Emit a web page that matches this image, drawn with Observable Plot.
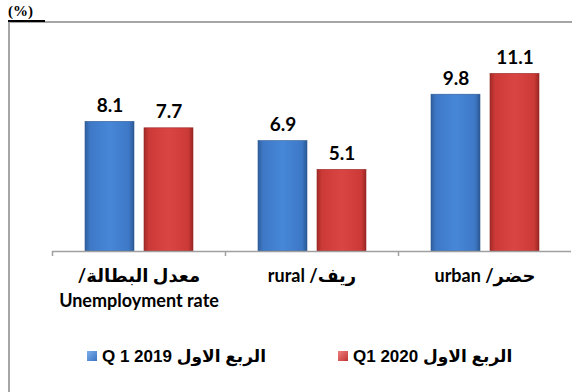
<!DOCTYPE html>
<html>
<head>
<meta charset="utf-8">
<script src="https://cdn.jsdelivr.net/npm/d3@7"></script>
<script src="https://cdn.jsdelivr.net/npm/@observablehq/plot@0.6"></script>
<style>
  body { margin: 0; background: #fff; }
  #wrap { position: relative; width: 572px; height: 392px; overflow: hidden; background: #fff; }
  #frame { position: absolute; left: 8px; top: 21px; width: 600px; height: 400px;
           border-top: 2px solid #a6a6a6; border-left: 2px solid #a6a6a6; }
  #unit { position: absolute; left: 8px; top: 3px; width: 37px; height: 17px;
          font: bold 15px "Liberation Serif", serif; color: #000;
          border-bottom: 2px solid #000; line-height: 17px; }
  #chart { position: absolute; left: 0; top: 0; }
  #legend { position: absolute; left: 0; top: 345px; width: 572px; height: 22px;
            font: bold 17px "Liberation Sans", "DejaVu Sans", sans-serif; color: #000; }
  .item { position: absolute; top: 0; white-space: nowrap; display: flex; align-items: center; height: 22px; }
  .sw { width: 10px; height: 10px; margin-right: 5px; box-sizing: border-box; }
</style>
</head>
<body>
<div id="wrap">
  <div id="frame"></div>
  <div id="unit">(%)</div>
  <div id="chart"></div>
  <div id="legend"></div>
</div>
<script>
// ---- data ----
const categories = ["/معدل البطالة\nUnemployment rate", "rural /ريف", "urban /حضر"];
const series = ["Q 1 2019", "Q1 2020"];
const seriesLabels = ["Q 1 2019 الربع الاول", "Q1 2020 الربع الاول"];
const values2019 = [8.1, 6.9, 9.8];
const values2020 = [7.7, 5.1, 11.1];

const data2019 = categories.map((c, i) => ({cat: c, s: series[0], v: values2019[i]}));
const data2020 = categories.map((c, i) => ({cat: c, s: series[1], v: values2020[i]}));
const all = data2019.concat(data2020);

const font = "Lato, 'DejaVu Sans', sans-serif";

const chart = Plot.plot({
  width: 572,
  height: 330,
  marginLeft: 52,
  marginRight: 1,
  marginTop: 27,
  marginBottom: 79,
  style: {fontFamily: font, background: "transparent", overflow: "visible", color: "#000"},
  fx: {domain: categories, padding: 0, label: null, axis: null},
  x: {domain: series, paddingInner: 0.17, paddingOuter: 0.55, axis: null},
  y: {domain: [0, 14], axis: null},
  marks: [
    Plot.barY(data2019, {fx: "cat", x: "s", y: "v", fill: "url(#gBlue)", stroke: "#2c5a94", strokeWidth: 0.6}),
    Plot.barY(data2020, {fx: "cat", x: "s", y: "v", fill: "url(#gRed)", stroke: "#962624", strokeWidth: 0.6}),
    Plot.ruleY([0], {stroke: "#a0a0a0", strokeWidth: 1.5}),
    Plot.axisFx({anchor: "bottom", text: null, tickSize: 5, dx: -86.5, stroke: "#a0a0a0", strokeWidth: 1.5, label: null}),
    Plot.axisFx({anchor: "bottom", tickSize: 0, tickPadding: 13, fontSize: 18, fontWeight: "bold",
                 lineHeight: 1.38, label: null, fontFamily: font}),
    Plot.text(all, {fx: "cat", x: "s", y: "v", text: d => d.v.toFixed(1), dy: -10, lineAnchor: "bottom",
                    fontSize: 19, fontWeight: "bold", fill: "#000"})
  ]
});

// gradients for the bevelled bars
const defs = d3.select(chart).insert("defs", ":first-child");
function grad(id, stops) {
  const g = defs.append("linearGradient").attr("id", id).attr("x1", 0).attr("x2", 1).attr("y1", 0).attr("y2", 0);
  stops.forEach(([o, c]) => g.append("stop").attr("offset", o).attr("stop-color", c));
}
grad("gBlue", [[0, "#2f5e9e"], [0.1, "#3d78c6"], [0.5, "#4787d8"], [0.9, "#3d78c6"], [1, "#2b5792"]]);
grad("gRed", [[0, "#a22a28"], [0.1, "#cc3a37"], [0.5, "#d94542"], [0.9, "#cc3a37"], [1, "#9b2624"]]);

document.getElementById("chart").appendChild(chart);

// legend
const legend = d3.select("#legend");
const swatch = ["linear-gradient(135deg,#7fb0ee,#3a73c0)", "linear-gradient(135deg,#f08080,#c03431)"];
const lefts = [87, 338];
seriesLabels.forEach((lab, i) => {
  const it = legend.append("div").attr("class", "item").style("left", lefts[i] + "px");
  it.append("div").attr("class", "sw").style("background", swatch[i]);
  it.append("span").text(lab);
});
</script>
</body>
</html>
